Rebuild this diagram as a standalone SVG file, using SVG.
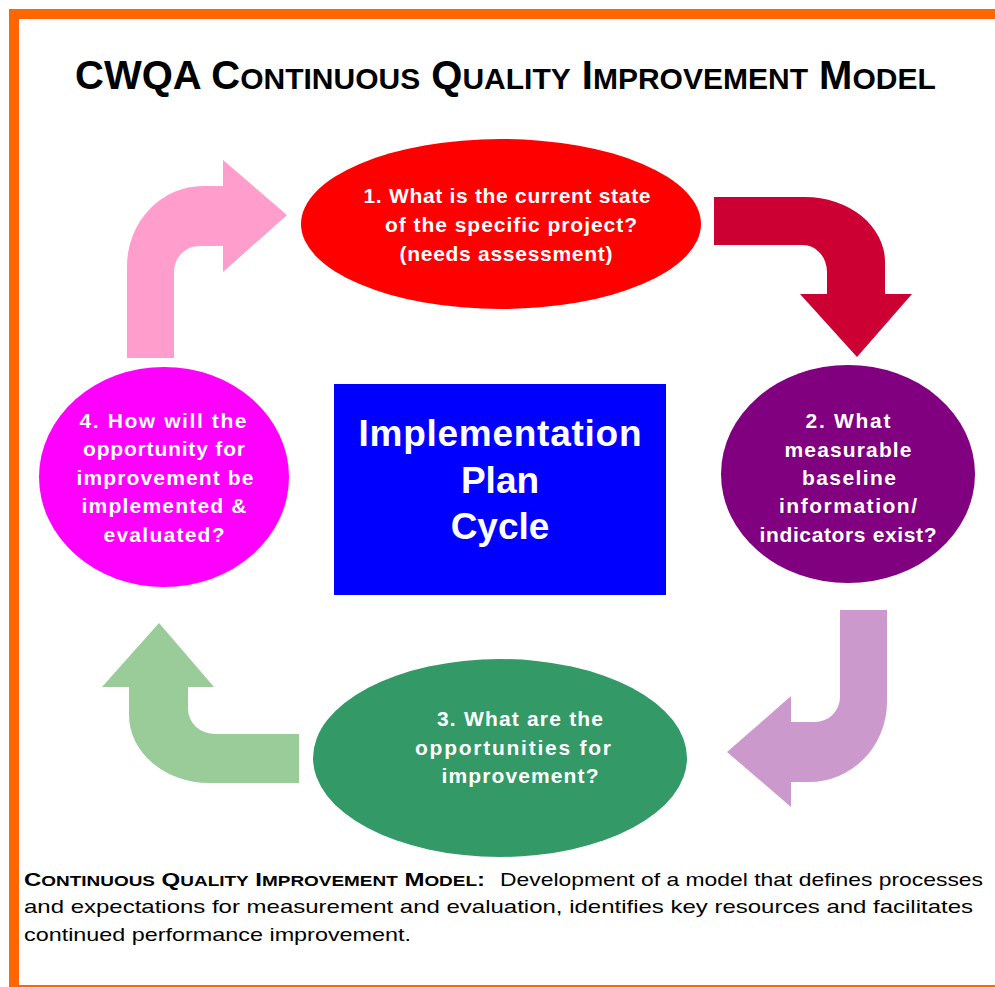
<svg xmlns="http://www.w3.org/2000/svg" width="995" height="987" viewBox="0 0 995 987">
  <style>
    .frame { fill: #FF6600; }
    .title { font-family: "Liberation Sans", Arial, sans-serif; font-weight: bold; fill: #000000; }
    .node-text { font-family: "Liberation Sans", Arial, sans-serif; font-weight: bold; font-size: 21px; fill: #FFFFFF; text-anchor: middle; }
    .center-text { font-family: "Liberation Sans", Arial, sans-serif; font-weight: bold; font-size: 37px; fill: #FFFFFF; text-anchor: middle; }
    .foot { font-family: "Liberation Sans", Arial, sans-serif; font-size: 19px; fill: #000000; }
    .foot-b { font-weight: bold; }
  </style>

  <!-- page background and orange frame -->
  <rect x="0" y="0" width="995" height="987" fill="#FFFFFF"/>
  <g id="frame">
    <rect class="frame" x="9" y="9" width="986" height="10"/>
    <rect class="frame" x="9" y="9" width="10" height="978"/>
    <rect class="frame" x="9" y="985" width="986" height="2"/>
  </g>

  <!-- heading, small caps built from two sizes -->
  <text class="title" x="75" y="89" font-size="40">CWQA C<tspan font-size="30">ONTINUOUS</tspan> Q<tspan font-size="30">UALITY</tspan> I<tspan font-size="30">MPROVEMENT</tspan> M<tspan font-size="30">ODEL</tspan></text>

  <!-- curved cycle arrows -->
  <g id="connectors">
    <path id="arrow-4-1" fill="#FF9ECC" d="M127,358 L127,266 A76 80 0 0 1 203,186 L223,186 L223,160 L287,215 L223,272 L223,246 L199,246 A25 26 0 0 0 174,272 L174,358 Z"/>
    <path id="arrow-1-2" fill="#CC0033" d="M714,197 L805,197 A80 65 0 0 1 885,262 L885,294 L912,294 L857,357 L800,294 L827,294 L827,272 A24 27 0 0 0 803,245 L714,245 Z"/>
    <path id="arrow-2-3" fill="#CC99CC" d="M840,610 L887,610 L887,702 A78 80 0 0 1 809,782 L791,782 L791,807 L727,752 L791,696 L791,722 L815,722 A25 25 0 0 0 840,697 Z"/>
    <path id="arrow-3-4" fill="#99CC99" d="M299,734 L215,734 A27 25 0 0 1 188,709 L188,687 L214,687 L159,623 L102,687 L129,687 L129,715 A80 68 0 0 0 209,783 L299,783 Z"/>
  </g>

  <!-- step 1 -->
  <g id="step1">
    <ellipse cx="501" cy="224" rx="200" ry="85" fill="#FF0000"/>
    <text class="node-text" x="507" y="203" textLength="287">1. What is the current state</text>
    <text class="node-text" x="511" y="232" textLength="252">of the specific project?</text>
    <text class="node-text" x="506" y="261" textLength="213">(needs assessment)</text>
  </g>

  <!-- step 2 -->
  <g id="step2">
    <ellipse cx="848" cy="474" rx="127" ry="109" fill="#800080"/>
    <text class="node-text" x="848" y="428" textLength="85">2. What</text>
    <text class="node-text" x="848" y="457" textLength="127">measurable</text>
    <text class="node-text" x="849" y="485" textLength="94">baseline</text>
    <text class="node-text" x="848" y="513" textLength="138">information/</text>
    <text class="node-text" x="848" y="542" textLength="177">indicators exist?</text>
  </g>

  <!-- step 3 -->
  <g id="step3">
    <ellipse cx="500" cy="758" rx="187" ry="99" fill="#339966"/>
    <text class="node-text" x="520" y="726" textLength="166">3. What are the</text>
    <text class="node-text" x="513" y="755" textLength="196">opportunities for</text>
    <text class="node-text" x="520" y="783" textLength="157">improvement?</text>
  </g>

  <!-- step 4 -->
  <g id="step4">
    <ellipse cx="164" cy="477" rx="125" ry="110" fill="#FF00FF"/>
    <text class="node-text" x="163" y="428" textLength="167">4. How will the</text>
    <text class="node-text" x="164" y="456" textLength="162">opportunity for</text>
    <text class="node-text" x="165" y="485" textLength="177">improvement be</text>
    <text class="node-text" x="164" y="513" textLength="165">implemented &amp;</text>
    <text class="node-text" x="164" y="542" textLength="121">evaluated?</text>
  </g>

  <!-- centre box -->
  <g id="plan">
    <rect x="334" y="384" width="332" height="211" fill="#0000FF"/>
    <text class="center-text" x="500" y="446" textLength="283">Implementation</text>
    <text class="center-text" x="500" y="493">Plan</text>
    <text class="center-text" x="500" y="539">Cycle</text>
  </g>

  <!-- footnote -->
  <g id="footnote">
    <text class="foot foot-b" x="24" y="886" textLength="461" lengthAdjust="spacingAndGlyphs">C<tspan font-size="15">ONTINUOUS</tspan> Q<tspan font-size="15">UALITY</tspan> I<tspan font-size="15">MPROVEMENT</tspan> M<tspan font-size="15">ODEL</tspan>:</text>
    <text class="foot" x="500" y="886" textLength="483" lengthAdjust="spacingAndGlyphs">Development of a model that defines processes</text>
    <text class="foot" x="24" y="913" textLength="949" lengthAdjust="spacingAndGlyphs">and expectations for measurement and evaluation, identifies key resources and  facilitates</text>
    <text class="foot" x="24" y="941" textLength="387" lengthAdjust="spacingAndGlyphs">continued performance improvement.</text>
  </g>
</svg>
